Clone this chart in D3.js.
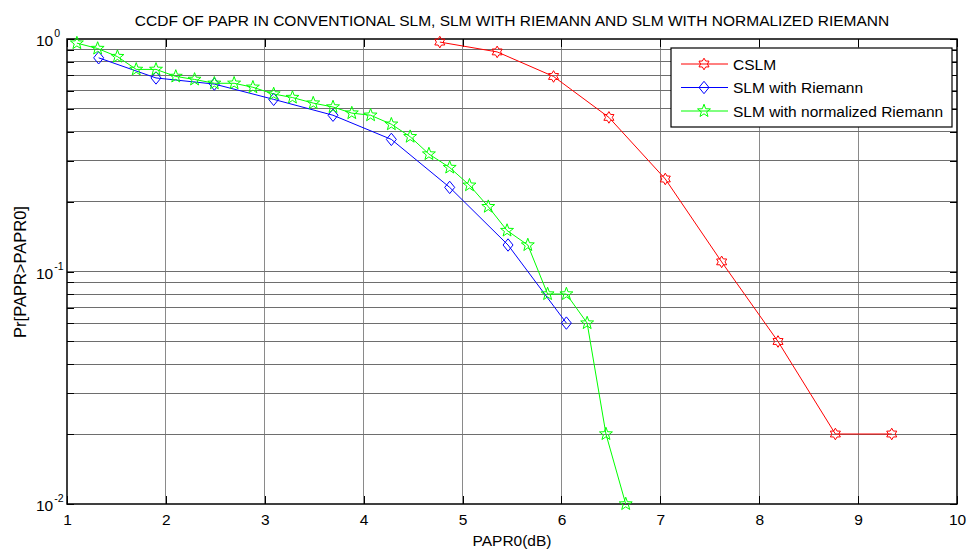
<!DOCTYPE html>
<html>
<head>
<meta charset="utf-8">
<script src="https://cdn.jsdelivr.net/npm/d3@7"></script>
<style>
  body { margin: 0; background: #fff; }
  text { font-family: Arial, "Liberation Sans", sans-serif; fill: #000; }
</style>
</head>
<body>
<div id="chart"></div>
<script>
// chart data
var titleText = "CCDF OF PAPR IN CONVENTIONAL SLM, SLM WITH RIEMANN AND SLM WITH NORMALIZED RIEMANN";
var xLabel = "PAPR0(dB)";
var yLabel = "Pr[PAPR>PAPR0]";
var seriesNames = ["CSLM", "SLM with Riemann", "SLM with normalized Riemann"];

var cslmX = [4.77, 5.35, 5.92, 6.48, 7.05, 7.62, 8.19, 8.77, 9.34];
var cslmY = [0.97, 0.88, 0.69, 0.46, 0.25, 0.11, 0.05, 0.02, 0.02];

var riemannX = [1.32, 1.90, 2.49, 3.09, 3.69, 4.28, 4.87, 5.46, 6.05];
var riemannY = [0.83, 0.68, 0.64, 0.55, 0.47, 0.37, 0.23, 0.13, 0.06];

var normX = [1.10, 1.31, 1.51, 1.70, 1.90, 2.10, 2.29, 2.49, 2.69, 2.88, 3.09, 3.28, 3.49, 3.69, 3.88,
             4.07, 4.28, 4.47, 4.66, 4.87, 5.07, 5.26, 5.45, 5.66, 5.86, 6.05, 6.26, 6.45, 6.65];
var normY = [0.96, 0.91, 0.84, 0.74, 0.74, 0.69, 0.67, 0.645, 0.645, 0.62, 0.58, 0.56, 0.53, 0.51, 0.48,
             0.47, 0.43, 0.38, 0.32, 0.28, 0.235, 0.19, 0.15, 0.13, 0.08, 0.08, 0.06, 0.02, 0.01];

var xTicks = [1, 2, 3, 4, 5, 6, 7, 8, 9, 10];
var yMajor = [0.01, 0.1, 1];
var yExponents = ["-2", "-1", "0"];

// set the dimensions and margins of the graph
var margin = {top: 39, right: 11, bottom: 46, left: 67},
    width = 968 - margin.left - margin.right,
    height = 550 - margin.top - margin.bottom;

var svg = d3.select("#chart")
  .append("svg")
    .attr("width", 968)
    .attr("height", 550)
  .append("g")
    .attr("transform", "translate(" + margin.left + "," + margin.top + ")");

var x = d3.scaleLinear().domain([1, 10]).range([0, width]);
var y = d3.scaleLog().domain([0.01, 1]).range([height, 0]);

// grid
var grid = svg.append("g").attr("shape-rendering", "crispEdges");
grid.selectAll(".vgrid")
  .data(xTicks.slice(1, -1))
  .enter().append("line")
    .attr("x1", function(d) { return x(d); })
    .attr("x2", function(d) { return x(d); })
    .attr("y1", 0).attr("y2", height)
    .style("stroke", "#8a8a8a");
grid.selectAll(".hgrid")
  .data(y.ticks().filter(function(d) { return d > 0.0101 && d < 0.99; }))
  .enter().append("line")
    .attr("x1", 0).attr("x2", width)
    .attr("y1", function(d) { return y(d); })
    .attr("y2", function(d) { return y(d); })
    .style("stroke", "#6e6e6e");

// axes (ticks pointing inward, on all sides)
var xAxis = svg.append("g")
  .attr("transform", "translate(0," + height + ")")
  .call(d3.axisBottom(x).tickValues(xTicks).tickSize(-8).tickPadding(10).tickFormat(d3.format("d")));
xAxis.selectAll("text").style("font-size", "15.5px");

svg.append("g")
  .call(d3.axisTop(x).tickValues(xTicks).tickSize(-8).tickFormat(""));

var minorY = y.ticks();
svg.append("g")
  .call(d3.axisLeft(y).tickValues(minorY).tickSize(-7).tickFormat(""));
svg.append("g")
  .attr("transform", "translate(" + width + ",0)")
  .call(d3.axisRight(y).tickValues(minorY).tickSize(-7).tickFormat(""));
svg.selectAll(".domain").remove();
svg.selectAll(".tick line").style("stroke", "#000").attr("shape-rendering", "crispEdges");

// y tick labels as powers of ten
var yl = svg.append("g");
yMajor.forEach(function(v, i) {
  var t = yl.append("text")
    .attr("x", -31)
    .attr("y", y(v) + 7)
    .style("font-size", "15.5px");
  t.append("tspan").text("10");
  t.append("tspan").attr("dy", -9).attr("dx", 1).style("font-size", "10.5px").text(yExponents[i]);
});

// box
svg.append("rect")
  .attr("width", width).attr("height", height)
  .style("fill", "none").style("stroke", "#000").style("stroke-width", 1.5);

// markers
function starPath(n, R, r) {
  var pts = [];
  for (var k = 0; k < 2 * n; k++) {
    var a = -Math.PI / 2 + k * Math.PI / n;
    var rad = (k % 2 === 0) ? R : r;
    pts.push([rad * Math.cos(a), rad * Math.sin(a)]);
  }
  return "M" + pts.join("L") + "Z";
}
var hexagram = starPath(6, 5.8, 3.4);
var pentagram = starPath(5, 6.8, 2.8);
var diamond = "M0,-6.2L5,0L0,6.2L-5,0Z";

var series = [
  {name: seriesNames[0], xs: cslmX, ys: cslmY, color: "#ff0000", marker: hexagram},
  {name: seriesNames[1], xs: riemannX, ys: riemannY, color: "#0000ff", marker: diamond},
  {name: seriesNames[2], xs: normX, ys: normY, color: "#00ff00", marker: pentagram}
];

var line = d3.line()
  .x(function(d) { return x(d[0]); })
  .y(function(d) { return y(d[1]); });

series.forEach(function(s) {
  var pts = d3.zip(s.xs, s.ys);
  var g = svg.append("g");
  g.append("path")
    .datum(pts)
    .attr("d", line)
    .style("fill", "none")
    .style("stroke", s.color)
    .style("stroke-width", 1);
  g.selectAll("path.mk")
    .data(pts)
    .enter().append("path")
      .attr("class", "mk")
      .attr("d", s.marker)
      .attr("transform", function(d) { return "translate(" + x(d[0]) + "," + y(d[1]) + ")"; })
      .style("fill", "none")
      .style("stroke", s.color)
      .style("stroke-width", 1);
});

// title and labels
svg.append("text")
  .attr("x", width / 2)
  .attr("y", 26 - margin.top)
  .attr("text-anchor", "middle")
  .style("font-size", "15.5px")
  .text(titleText);

svg.append("text")
  .attr("x", width / 2)
  .attr("y", height + 42)
  .attr("text-anchor", "middle")
  .style("font-size", "15.5px")
  .text(xLabel);

svg.append("text")
  .attr("transform", "rotate(-90)")
  .attr("x", -(272 - margin.top))
  .attr("y", 26 - margin.left)
  .attr("text-anchor", "middle")
  .style("font-size", "16.5px")
  .text(yLabel);

// legend
var legend = svg.append("g")
  .attr("transform", "translate(" + (671 - margin.left) + "," + (48 - margin.top) + ")");
legend.append("rect")
  .attr("width", 281).attr("height", 79)
  .style("fill", "#fff").style("stroke", "#000").style("stroke-width", 1.2);
series.forEach(function(s, i) {
  var ly = 16 + i * 23.5;
  legend.append("line")
    .attr("x1", 10).attr("x2", 57)
    .attr("y1", ly).attr("y2", ly)
    .style("stroke", s.color);
  legend.append("path")
    .attr("d", s.marker)
    .attr("transform", "translate(33," + ly + ")")
    .style("fill", "none").style("stroke", s.color);
  legend.append("text")
    .attr("x", 62)
    .attr("y", ly + 5.5)
    .style("font-size", "15.5px")
    .text(s.name);
});
</script>
</body>
</html>
